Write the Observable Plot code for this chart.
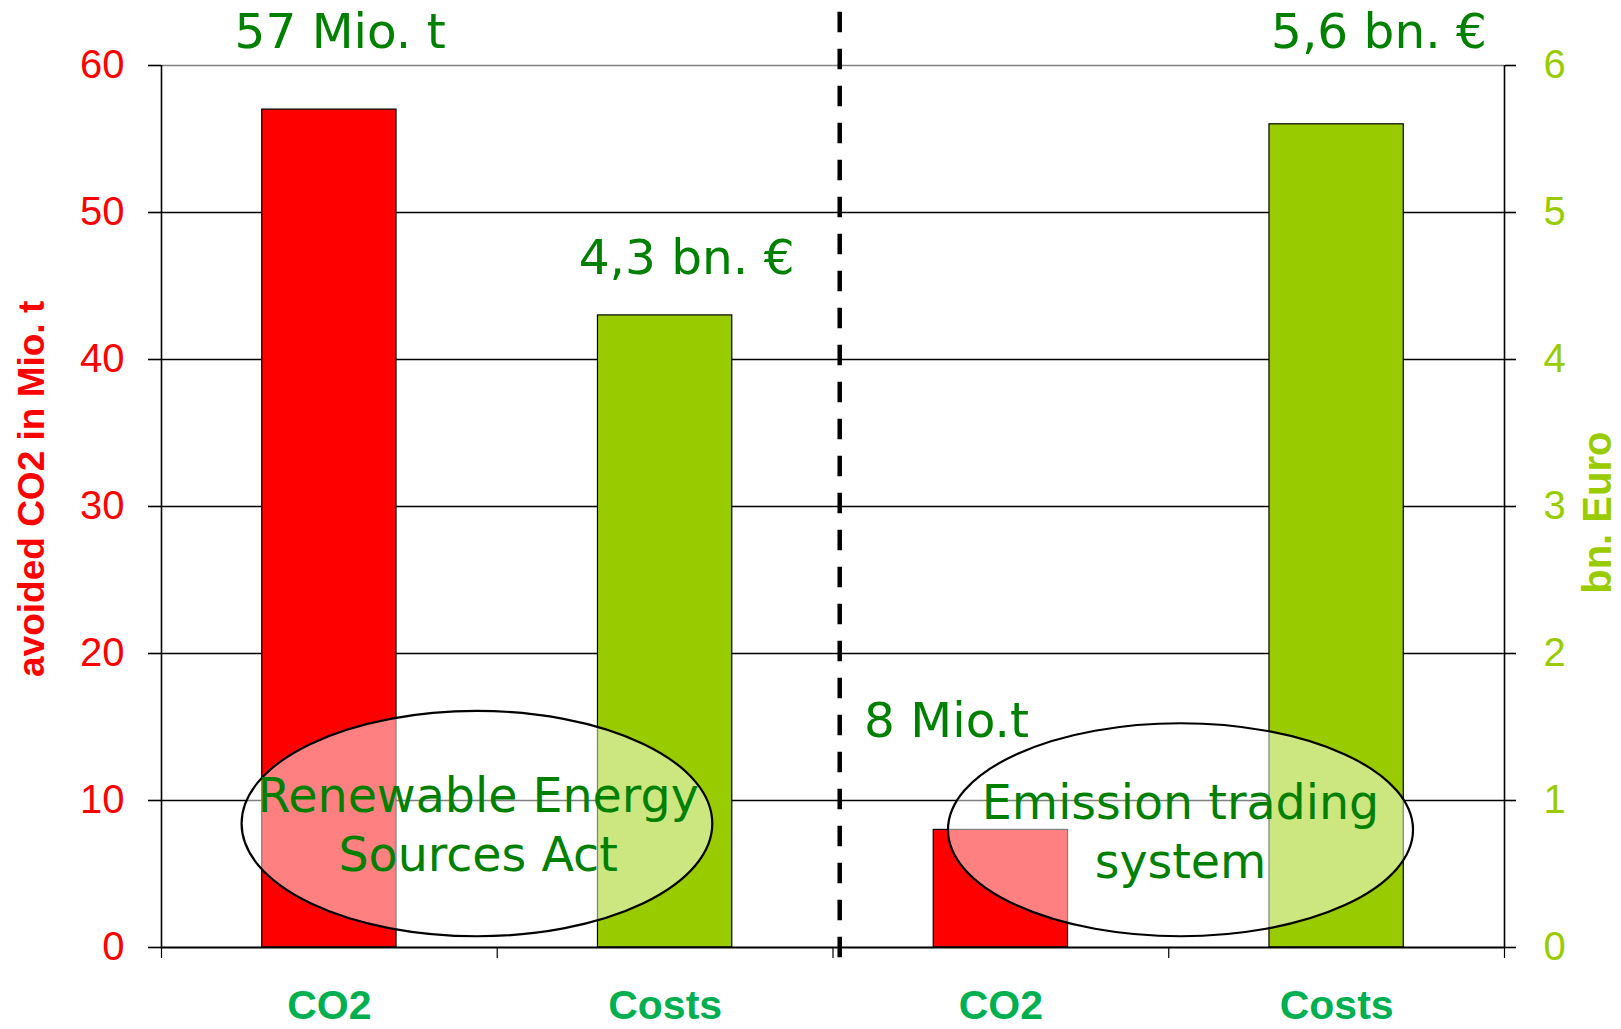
<!DOCTYPE html>
<html>
<head>
<meta charset="utf-8">
<script src="https://cdn.jsdelivr.net/npm/d3@7"></script>
<script src="https://cdn.jsdelivr.net/npm/@observablehq/plot@0.6"></script>
<style>
  html, body { margin: 0; padding: 0; background: #fff; }
  svg { display: block; }
</style>
</head>
<body>
<div id="chart"></div>
<script>
// ---- data ----
const categories = ["CO2", "Costs", "CO2", "Costs"];
const seriesKind = ["co2", "cost", "co2", "cost"];
const co2Values = [57, 8];          // avoided CO2, Mio. t  (EEG, emission trading)
const costValues = [4.3, 5.6];      // costs, bn. Euro      (EEG, emission trading)
const leftTicks = [0, 10, 20, 30, 40, 50, 60];
const rightTicks = [0, 1, 2, 3, 4, 5, 6];
const valueLabels = ["57 Mio. t", "4,3 bn. €", "8 Mio.t", "5,6 bn. €"];
const ellipseLabels = ["Renewable Energy\nSources Act", "Emission trading\nsystem"];
const leftTitle = "avoided CO2 in Mio. t";
const rightTitle = "bn. Euro";

// ---- annotation placement (data units: x = category slot, y = Mio. t) ----
const valueLabelPos = [[0.532, 61.2], [1.564, 45.8], [2.338, 14.3], [3.626, 61.2]];
const ellipseBounds = [[0.240, 1.642, 0.73, 16.06], [2.344, 3.729, 0.73, 15.22]];
const ellipseTextPos = [[0.943, 5.22], [3.035, 4.76]];
const titlePos = [[-0.351, 31.2], [4.316, 29.58]];
const dividerX = [2.02];
const dividerSpan = [63.63, -1.11];

const ratio = leftTicks[leftTicks.length - 1] / rightTicks[rightTicks.length - 1];
const bars = categories.map((c, i) => ({
  i, cat: c, kind: seriesKind[i],
  value: seriesKind[i] === "co2" ? co2Values[i >> 1] : costValues[i >> 1] * ratio
}));

const sans = "Liberation Sans, Arial, sans-serif";
const verd = "DejaVu Sans, Verdana, sans-serif";

function ellipseMark(index, scales) {
  const ns = "http://www.w3.org/2000/svg";
  const g = document.createElementNS(ns, "g");
  for (const [xa, xb, ya, yb] of ellipseBounds) {
    const x1 = scales.x(xa), x2 = scales.x(xb), y1 = scales.y(ya), y2 = scales.y(yb);
    const e = document.createElementNS(ns, "ellipse");
    e.setAttribute("cx", (x1 + x2) / 2);
    e.setAttribute("cy", (y1 + y2) / 2);
    e.setAttribute("rx", Math.abs(x2 - x1) / 2);
    e.setAttribute("ry", Math.abs(y2 - y1) / 2);
    e.setAttribute("fill", "#fff");
    e.setAttribute("fill-opacity", 0.5);
    e.setAttribute("stroke", "#000");
    e.setAttribute("stroke-width", 2.2);
    g.appendChild(e);
  }
  return g;
}

const chart = Plot.plot({
  width: 1621,
  height: 1029,
  marginTop: 65,
  marginBottom: 82,
  marginLeft: 161,
  marginRight: 117,
  style: { background: "#fff", overflow: "visible" },
  x: { type: "linear", domain: [0, 4] },
  y: { domain: [0, 60] },
  marks: [
    Plot.ruleY(leftTicks.slice(1, -1), { stroke: "#000", strokeWidth: 1.4 }),
    Plot.ruleY([leftTicks[leftTicks.length - 1]], { stroke: "#808080", strokeWidth: 1.5 }),
    Plot.rectY(bars.filter(d => d.kind === "co2"), {
      x1: d => d.i + 0.3, x2: d => d.i + 0.7, y1: 0, y2: "value",
      fill: "#FF0000", stroke: "#000", strokeWidth: 1.2
    }),
    Plot.rectY(bars.filter(d => d.kind === "cost"), {
      x1: d => d.i + 0.3, x2: d => d.i + 0.7, y1: 0, y2: "value",
      fill: "#99CC00", stroke: "#000", strokeWidth: 1.2
    }),
    ellipseMark,
    Plot.ruleY([0], { stroke: "#000", strokeWidth: 2 }),
    Plot.ruleX([0, 4], { y1: 0, y2: 60, stroke: "#000", strokeWidth: 1.6 }),
    Plot.axisY({
      anchor: "left", ticks: leftTicks, tickSize: 13, tickPadding: 24,
      color: "#FF0000", stroke: "#000", strokeWidth: 1.6,
      fontSize: 40, fontFamily: sans, label: null
    }),
    Plot.axisY({
      anchor: "right", ticks: leftTicks, tickFormat: d => String(d / ratio),
      tickSize: 11, tickPadding: 28, color: "#99CC00", stroke: "#000", strokeWidth: 1.6,
      fontSize: 40, fontFamily: sans, label: null
    }),
    Plot.axisX({
      ticks: [0, 1, 2, 3, 4], tickSize: 11, tickFormat: () => "",
      stroke: "#000", strokeWidth: 1.2, label: null
    }),
    Plot.axisX({
      ticks: categories.map((c, i) => i + 0.5), tickSize: 0, tickPadding: 42,
      tickFormat: d => categories[Math.floor(d)],
      color: "#00B050", fontSize: 41, fontWeight: "bold", fontFamily: sans, label: null
    }),
    Plot.ruleX(dividerX, {
      y1: dividerSpan[0], y2: dividerSpan[1], stroke: "#000",
      strokeWidth: 4.5, strokeDasharray: "20.5,16.5"
    }),
    Plot.text(valueLabels, {
      x: (d, i) => valueLabelPos[i][0], y: (d, i) => valueLabelPos[i][1], text: d => d,
      fill: "#008000", fontSize: 48.5, fontFamily: verd,
      textAnchor: "middle", lineAnchor: "bottom"
    }),
    Plot.text(ellipseLabels, {
      x: (d, i) => ellipseTextPos[i][0], y: (d, i) => ellipseTextPos[i][1], text: d => d,
      fill: "#008000", fontSize: 47.5, fontFamily: verd, lineHeight: 1.23,
      textAnchor: "middle", lineAnchor: "bottom"
    }),
    Plot.text([leftTitle], {
      x: () => titlePos[0][0], y: () => titlePos[0][1], text: d => d, rotate: -90,
      fill: "#FF0000", fontSize: 37, fontWeight: "bold", fontFamily: sans,
      textAnchor: "middle", lineAnchor: "bottom"
    }),
    Plot.text([rightTitle], {
      x: () => titlePos[1][0], y: () => titlePos[1][1], text: d => d, rotate: -90,
      fill: "#99CC00", fontSize: 40, fontWeight: "bold", fontFamily: sans,
      textAnchor: "middle", lineAnchor: "bottom"
    })
  ]
});
document.getElementById("chart").appendChild(chart);
</script>
</body>
</html>
